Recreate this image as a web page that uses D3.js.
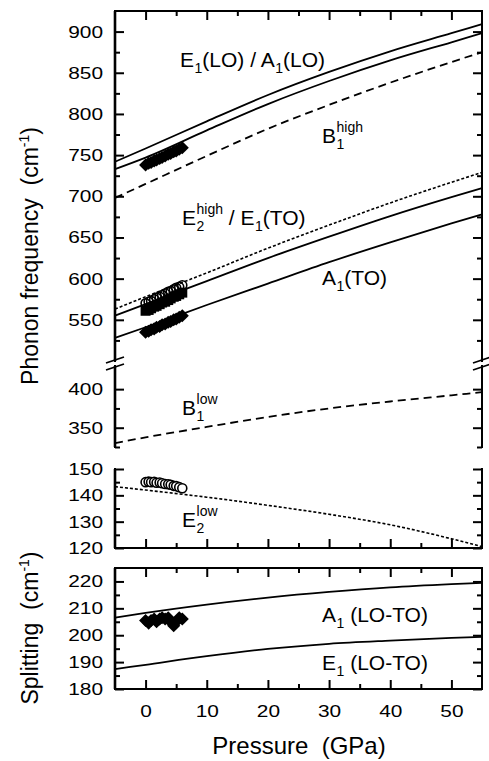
<!DOCTYPE html>
<html>
<head>
<meta charset="utf-8">
<script src="https://cdn.jsdelivr.net/npm/d3@7"></script>
<style>
  body { margin: 0; background: #fff; }
  svg { display: block; font-family: "Liberation Sans", Arial, Helvetica, sans-serif; }
  text { white-space: pre; fill: #000; }
</style>
</head>
<body>
<div class="d3Chart"></div>
<script>
// calculated curves, read at these pressures (GPa)
var pressure = [-5, 0, 10, 20, 30, 40, 50, 55];
var e1LO = [742, 758, 791, 823, 851, 876, 898, 909];
var a1LO = [733, 747, 780, 812, 840, 865, 887, 898];
var b1High = [698, 715, 749, 782, 811, 838, 863, 875];
var e2High = [563, 578, 607, 637, 665, 692, 717, 729];
var e1TO = [555, 569, 597, 625, 651, 676, 699, 710];
var a1TO = [528, 541, 568, 594, 620, 644, 667, 678];
var b1Low = [330, 337.5, 351, 364, 375, 384, 392, 396];
var e2Low = [143.3, 142, 139.3, 136.2, 132.8, 128.8, 123.5, 120.5];
var a1Split = [206.5, 208.3, 211.4, 214, 216.1, 217.8, 219, 219.5];
var e1Split = [187.4, 189, 192.2, 194.9, 196.8, 198, 199, 199.4];

// measured points
var pExp = [0, 0.5, 0.9, 1.4, 1.8, 2.3, 2.7, 3.2, 3.7, 4.1, 4.6, 5.0, 5.5, 6.0];
var loExp = [738, 740, 741, 743, 744, 746, 747, 749, 751, 752, 754, 755, 757, 759];
var e2HighExp = [570, 572, 573, 575, 577, 578, 580, 582, 584, 585, 587, 589, 590, 592];
var e1TOExp = [561, 562, 564, 566, 567, 569, 571, 572, 574, 576, 578, 579, 581, 583];
var a1TOExp = [535, 536, 538, 539, 541, 542, 544, 545, 547, 548, 550, 551, 553, 555];
var e2LowExp = [145, 145.2, 145, 145.1, 144.8, 144.9, 144.6, 144.3, 144.2, 144, 143.6, 143.5, 143.1, 142.7];
var splitExp = [205.5, 204.5, 205.5, 206, 205, 206, 206.5, 206, 206.5, 205, 203.5, 205, 206.5, 206];

// ticks
var xTicks = [0, 10, 20, 30, 40, 50];
var xMinor = [5, 15, 25, 35, 45];
var hiTicks = [550, 600, 650, 700, 750, 800, 850, 900];
var hiMinor = [525, 575, 625, 675, 725, 775, 825, 875];
var loTicks = [350, 400];
var loMinor = [325, 375];
var e2Ticks = [120, 130, 140, 150];
var e2Minor = [125, 135, 145];
var spTicks = [180, 190, 200, 210, 220];
var spMinor = [185, 195, 205, 215];

var width = 489;
var height = 761;
var left = 115;
var right = 482;

var svg = d3.select(".d3Chart").append("svg")
  .attr("width", width)
  .attr("height", height);

var x = d3.scaleLinear().domain([-5, 55]).range([left, right]);
var yHi = d3.scaleLinear().domain([500, 925]).range([361, 11]);
var yLo = d3.scaleLinear().domain([325, 430]).range([447, 366]);
var yE2 = d3.scaleLinear().domain([120, 150]).range([548, 469]);
var ySp = d3.scaleLinear().domain([180, 225]).range([689, 568]);

function styleAxis(g) {
  g.select(".domain").remove();
  g.attr("font-size", null).attr("font-family", null);
  g.selectAll("line").attr("stroke", "#000").attr("stroke-width", 2);
  g.selectAll("text")
    .style("font-size", "17px")
    .attr("textLength", function (d) { return String(d).length * 11.6; })
    .attr("lengthAdjust", "spacingAndGlyphs");
}

// y ticks on both sides, labels on the left only
function yTicks(scale, major, minor) {
  svg.append("g").attr("transform", "translate(" + left + ",0)")
    .call(d3.axisLeft(scale).tickValues(major).tickSizeInner(-9).tickSizeOuter(0).tickPadding(12))
    .call(styleAxis);
  svg.append("g").attr("transform", "translate(" + left + ",0)")
    .call(d3.axisLeft(scale).tickValues(minor).tickSizeInner(-5).tickSizeOuter(0).tickFormat(""))
    .call(styleAxis);
  svg.append("g").attr("transform", "translate(" + right + ",0)")
    .call(d3.axisRight(scale).tickValues(major).tickSizeInner(-9).tickSizeOuter(0).tickFormat(""))
    .call(styleAxis);
  svg.append("g").attr("transform", "translate(" + right + ",0)")
    .call(d3.axisRight(scale).tickValues(minor).tickSizeInner(-5).tickSizeOuter(0).tickFormat(""))
    .call(styleAxis);
}

function xTicksAt(y, dir, withLabels) {
  var mk = dir === "top" ? d3.axisTop : d3.axisBottom;
  var maj = mk(x).tickValues(xTicks).tickSizeInner(-9).tickSizeOuter(0).tickPadding(16);
  if (!withLabels) maj.tickFormat("");
  svg.append("g").attr("transform", "translate(0," + y + ")").call(maj).call(styleAxis);
  svg.append("g").attr("transform", "translate(0," + y + ")")
    .call(mk(x).tickValues(xMinor).tickSizeInner(-5).tickSizeOuter(0).tickFormat(""))
    .call(styleAxis);
}

yTicks(yHi, hiTicks, hiMinor);
yTicks(yLo, loTicks, loMinor);
yTicks(yE2, e2Ticks, e2Minor);
yTicks(ySp, spTicks, spMinor);
xTicksAt(11, "top", false);
xTicksAt(548, "bottom", false);
xTicksAt(568, "top", false);
xTicksAt(689, "bottom", true);

// frame lines
var frame = svg.append("g").attr("fill", "none").attr("stroke", "#000").attr("stroke-width", 2);
var framePaths = [
  [[left, 361], [left, 11], [right, 11], [right, 361]],
  [[left, 366], [left, 447]],
  [[right, 366], [right, 447]],
  [[left, 469], [left, 548], [right, 548], [right, 469]],
  [[left, 568], [right, 568], [right, 689], [left, 689], [left, 568]]
];
framePaths.forEach(function (p) {
  frame.append("path").attr("d", d3.line()(p)).attr("stroke-linecap", "square");
});
// left axis drawn a bit heavier
[[11, 361], [366, 447], [469, 548], [568, 689]].forEach(function (s) {
  frame.append("line").attr("x1", left).attr("x2", left)
    .attr("y1", s[0]).attr("y2", s[1]).attr("stroke-width", 2.6);
});
// axis break marks
[left, right].forEach(function (bx) {
  [360, 367].forEach(function (by) {
    frame.append("line")
      .attr("x1", bx - 9).attr("y1", by + 3)
      .attr("x2", bx + 9).attr("y2", by - 3)
      .attr("stroke-width", 1.8);
  });
});

// curves
function curve(scale, values, dash, w) {
  var line = d3.line()
    .x(function (d, i) { return x(pressure[i]); })
    .y(function (d) { return scale(d); })
    .curve(d3.curveMonotoneX);
  svg.append("path")
    .attr("d", line(values))
    .attr("fill", "none")
    .attr("stroke", "#000")
    .attr("stroke-width", w || 1.8)
    .attr("stroke-dasharray", dash || null);
}
curve(yHi, e1LO);
curve(yHi, a1LO);
curve(yHi, b1High, "8,5");
curve(yHi, e2High, "3,2", 1.6);
curve(yHi, e1TO);
curve(yHi, a1TO);
curve(yLo, b1Low, "8,5");
curve(yE2, e2Low, "3,2", 1.6);
curve(ySp, a1Split);
curve(ySp, e1Split);

// markers
var diamond = d3.symbol().type(d3.symbolSquare).size(85);
var square = d3.symbol().type(d3.symbolSquare).size(100);

function diamonds(scale, values) {
  svg.append("g").selectAll("path").data(values).enter().append("path")
    .attr("d", diamond)
    .attr("fill", "#000")
    .attr("transform", function (d, i) {
      return "translate(" + x(pExp[i]) + "," + scale(d) + ") rotate(45)";
    });
}
function squares(scale, values) {
  svg.append("g").selectAll("path").data(values).enter().append("path")
    .attr("d", square)
    .attr("fill", "#000")
    .attr("transform", function (d, i) {
      return "translate(" + x(pExp[i]) + "," + scale(d) + ")";
    });
}
function circles(scale, values, fill) {
  svg.append("g").selectAll("circle").data(values).enter().append("circle")
    .attr("cx", function (d, i) { return x(pExp[i]); })
    .attr("cy", function (d) { return scale(d); })
    .attr("r", 4.5)
    .attr("fill", fill)
    .attr("stroke", "#000")
    .attr("stroke-width", 1.6);
}
diamonds(yHi, loExp);
squares(yHi, e1TOExp);
circles(yHi, e2HighExp, "none");
diamonds(yHi, a1TOExp);
circles(yE2, e2LowExp, "#fff");
diamonds(ySp, splitExp);

// mode labels: [base, subscript, superscript]
function modeLabel(x0, y0, parts) {
  var g = svg.append("g");
  var cx = x0;
  parts.forEach(function (p) {
    var t = g.append("text").attr("x", cx).attr("y", y0).style("font-size", "21px").text(p[0]);
    cx += t.node().getComputedTextLength();
    var w = 0;
    if (p[1]) {
      var s = g.append("text").attr("x", cx + 0.5).attr("y", y0 + 6).style("font-size", "14px").text(p[1]);
      w = s.node().getComputedTextLength() + 0.5;
    }
    if (p[2]) {
      var u = g.append("text").attr("x", cx + 0.5).attr("y", y0 - 11).style("font-size", "14px").text(p[2]);
      w = Math.max(w, u.node().getComputedTextLength() + 0.5);
    }
    cx += w;
  });
}
modeLabel(180, 67, [["E", "1"], ["(LO) / A", "1"], ["(LO)"]]);
modeLabel(322, 143, [["B", "1", "high"]]);
modeLabel(182, 225, [["E", "2", "high"], [" / E", "1"], ["(TO)"]]);
modeLabel(322, 285, [["A", "1"], ["(TO)"]]);
modeLabel(182, 415, [["B", "1", "low"]]);
modeLabel(182, 527, [["E", "2", "low"]]);
modeLabel(322, 622, [["A", "1"], [" (LO-TO)"]]);
modeLabel(322, 670, [["E", "1"], [" (LO-TO)"]]);

// axis titles
svg.append("text")
  .attr("x", 299).attr("y", 754)
  .attr("text-anchor", "middle")
  .style("font-size", "24px")
  .text("Pressure  (GPa)");

function yTitle(cy, main) {
  var t = svg.append("text")
    .attr("transform", "translate(38," + cy + ") rotate(-90)")
    .attr("text-anchor", "middle")
    .style("font-size", "23px");
  t.append("tspan").text(main + "  (cm");
  t.append("tspan").attr("dy", -9).style("font-size", "14px").text("-1");
  t.append("tspan").attr("dy", 9).text(")");
}
yTitle(256, "Phonon frequency");
yTitle(628, "Splitting");
</script>
</body>
</html>
